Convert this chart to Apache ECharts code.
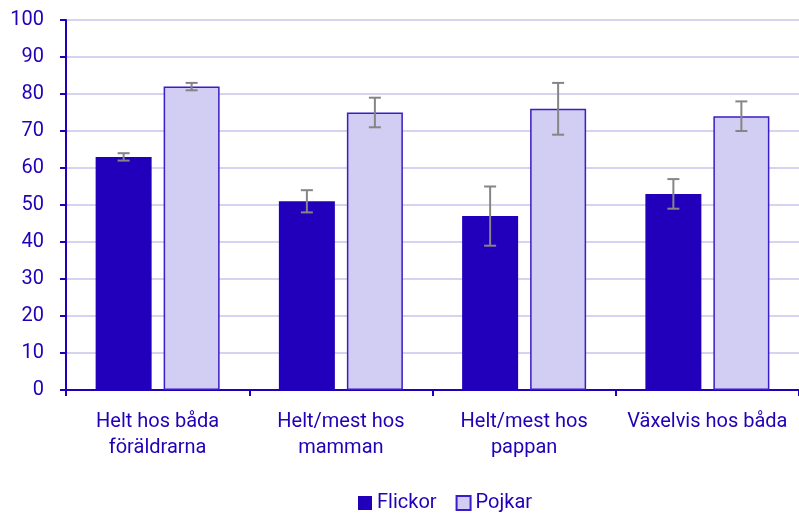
<!DOCTYPE html>
<html>
<head>
<meta charset="utf-8">
<script src="https://cdn.jsdelivr.net/npm/echarts@6/dist/echarts.min.js"></script>
<style>
  html, body { margin: 0; padding: 0; background: #fff; }
  #main { width: 799px; height: 513px; }
</style>
</head>
<body>
<div id="main"></div>
<script>
var categories = ['Helt hos båda\nföräldrarna', 'Helt/mest hos\nmamman', 'Helt/mest hos\npappan', 'Växelvis hos båda'];
var flickor = [63, 51, 47, 53];
var pojkar = [82, 75, 76, 74];
// konfidensintervall [låg, hög]
var flickorErr = [[62, 64], [48, 54], [39, 55], [49, 57]];
var pojkarErr = [[81, 83], [71, 79], [69, 83], [70, 78]];
var yTicks = [0, 10, 20, 30, 40, 50, 60, 70, 80, 90, 100];

var textColor = '#2200B8';
var darkBlue = '#2200BB';
var lightBlue = '#D2CDF2';
var barW = 56;
var gapPx = 12;

function errorSeries(errs, offset) {
    var data = [];
    for (var i = 0; i < errs.length; i++) {
        data.push([i, errs[i][0], errs[i][1]]);
    }
    return {
        type: 'custom',
        silent: true,
        z: 10,
        data: data,
        renderItem: function (params, api) {
            var lo = api.coord([api.value(0), api.value(1)]);
            var hi = api.coord([api.value(0), api.value(2)]);
            var x = lo[0] + offset;
            var cap = 6;
            var st = { stroke: '#858585', lineWidth: 2 };
            return {
                type: 'group',
                children: [
                    { type: 'line', shape: { x1: x, y1: hi[1], x2: x, y2: lo[1] }, style: st },
                    { type: 'line', shape: { x1: x - cap, y1: hi[1], x2: x + cap, y2: hi[1] }, style: st },
                    { type: 'line', shape: { x1: x - cap, y1: lo[1], x2: x + cap, y2: lo[1] }, style: st }
                ]
            };
        }
    };
}

var chart = echarts.init(document.getElementById('main'));
chart.setOption({
    animation: false,
    textStyle: { fontFamily: 'Roboto' },
    grid: { left: 66, top: 20, width: 741, height: 370 },
    legend: {
        top: 488,
        left: 353,
        itemWidth: 14,
        itemHeight: 14,
        itemGap: 19,
        icon: 'rect',
        textStyle: { color: textColor, fontSize: 20, fontFamily: 'Roboto' },
        data: ['Flickor', 'Pojkar']
    },
    xAxis: {
        type: 'category',
        data: categories,
        axisLine: { lineStyle: { color: darkBlue, width: 2 } },
        axisTick: { show: true, length: 6, lineStyle: { color: darkBlue, width: 2 } },
        axisLabel: { color: textColor, fontSize: 20, lineHeight: 26, margin: 19, interval: 0 }
    },
    yAxis: {
        type: 'value',
        min: yTicks[0],
        max: yTicks[yTicks.length - 1],
        interval: 10,
        axisLine: { show: true, lineStyle: { color: darkBlue, width: 2 } },
        axisTick: { show: true, length: 6, lineStyle: { color: darkBlue, width: 2 } },
        axisLabel: { color: textColor, fontSize: 20, margin: 22 },
        splitLine: { lineStyle: { color: '#D6D3F0', width: 2 } }
    },
    series: [
        {
            name: 'Flickor',
            type: 'bar',
            data: flickor,
            barWidth: barW,
            barGap: (gapPx / barW * 100) + '%',
            itemStyle: { color: darkBlue }
        },
        {
            name: 'Pojkar',
            type: 'bar',
            data: pojkar,
            barWidth: barW,
            itemStyle: { color: lightBlue, borderColor: '#3A1CC8', borderWidth: 1.5 }
        },
        errorSeries(flickorErr, -(barW + gapPx) / 2),
        errorSeries(pojkarErr, (barW + gapPx) / 2)
    ]
});
</script>
</body>
</html>
